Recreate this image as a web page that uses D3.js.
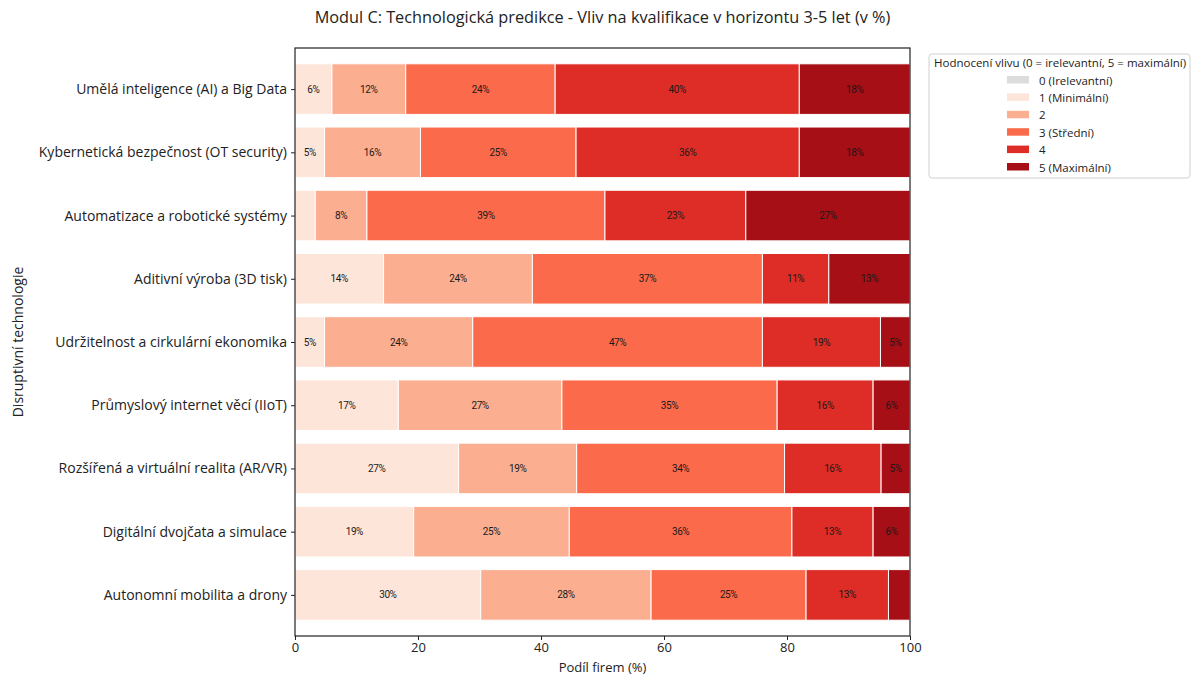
<!DOCTYPE html>
<html>
<head>
<meta charset="utf-8">
<script src="https://cdn.jsdelivr.net/npm/d3@7"></script>
<style>
  html, body { margin: 0; padding: 0; background: #fff; }
  svg { display: block; font-family: "Open Sans", Roboto, sans-serif; }
</style>
</head>
<body>
<svg id="chart" width="1191" height="675"></svg>
<script>
// Technologies (top to bottom)
const categories = [
  "Umělá inteligence (AI) a Big Data",
  "Kybernetická bezpečnost (OT security)",
  "Automatizace a robotické systémy",
  "Aditivní výroba (3D tisk)",
  "Udržitelnost a cirkulární ekonomika",
  "Průmyslový internet věcí (IIoT)",
  "Rozšířená a virtuální realita (AR/VR)",
  "Digitální dvojčata a simulace",
  "Autonomní mobilita a drony"
];

// Impact levels and legend labels
const levels = ["0 (Irelevantní)", "1 (Minimální)", "2", "3 (Střední)", "4", "5 (Maximální)"];
const levelColors = ["#dcdcdc", "#fee5d9", "#fcae91", "#fb6a4a", "#de2d26", "#a50f15"];

// Share of firms (%) per level, one array per level, in category order
const level0 = [0, 0, 0, 0, 0, 0, 0, 0, 0];
const level1 = [6.0, 4.8, 3.3, 14.4, 4.8, 16.8, 26.6, 19.3, 30.2];
const level2 = [12.0, 15.6, 8.4, 24.2, 24.1, 26.6, 19.2, 25.3, 27.7];
const level3 = [24.3, 25.3, 38.7, 37.4, 47.1, 35.0, 33.8, 36.2, 25.2];
const level4 = [39.7, 36.3, 22.9, 10.8, 19.2, 15.6, 15.7, 13.2, 13.4];
const level5 = [18.0, 18.0, 26.7, 13.2, 4.8, 6.0, 4.7, 6.0, 3.5];
const seriesValues = [level0, level1, level2, level3, level4, level5];

const xTicks = [0, 20, 40, 60, 80, 100];

const title = "Modul C: Technologická predikce - Vliv na kvalifikace v horizontu 3-5 let (v %)";
const xTitle = "Podíl firem (%)";
const yTitle = "Disruptivní technologie";
const legendTitle = "Hodnocení vlivu (0 = irelevantní, 5 = maximální)";

const svg = d3.select("#chart");
const plot = { left: 295, right: 910, top: 48, bottom: 636 };

const x = d3.scaleLinear().domain([0, 100]).range([plot.left, plot.right]);
const y = d3.scaleLinear().domain([-0.65, categories.length - 1 + 0.65]).range([plot.top, plot.bottom]);
const barH = 0.8;

// Stack the series
const rows = categories.map((c, i) => {
  const o = { cat: c, idx: i };
  levels.forEach((l, k) => { o[k] = seriesValues[k][i]; });
  return o;
});
const stack = d3.stack().keys(levels.map((l, k) => k));
const stacked = stack(rows);

const g = svg.append("g");

stacked.forEach((layer, k) => {
  const lg = g.append("g");
  lg.selectAll("rect")
    .data(layer)
    .join("rect")
    .attr("x", d => x(d[0]))
    .attr("width", d => x(d[1]) - x(d[0]))
    .attr("y", d => y(d.data.idx - barH / 2))
    .attr("height", d => y(d.data.idx + barH / 2) - y(d.data.idx - barH / 2))
    .attr("fill", levelColors[k])
    .attr("stroke", d => (d[1] - d[0]) > 0 ? "#fff" : "none")
    .attr("stroke-width", 1);

  // Percentage labels on segments wide enough to hold them
  lg.selectAll("text")
    .data(layer.filter(d => (d[1] - d[0]) >= 4))
    .join("text")
    .attr("x", d => x((d[0] + d[1]) / 2))
    .attr("y", d => y(d.data.idx))
    .attr("text-anchor", "middle")
    .attr("dominant-baseline", "central")
    .attr("font-family", "Roboto, sans-serif")
    .attr("font-size", 10)
    .attr("letter-spacing", -0.4)
    .attr("fill", "#1a1a1a")
    .text(d => Math.round(d[1] - d[0]) + "%");
});

// Frame
svg.append("rect")
  .attr("x", plot.left).attr("y", plot.top)
  .attr("width", plot.right - plot.left).attr("height", plot.bottom - plot.top)
  .attr("fill", "none").attr("stroke", "#222").attr("stroke-width", 1.2);

// X axis
const xAxis = d3.axisBottom(x).tickValues(xTicks).tickSize(4).tickPadding(3);
const xg = svg.append("g").attr("transform", `translate(0,${plot.bottom})`).call(xAxis);
xg.select(".domain").remove();
xg.selectAll("line").attr("stroke", "#222");
xg.selectAll("text").attr("font-size", 13).attr("fill", "#222").attr("font-family", "'Open Sans', sans-serif");

// Y axis
const yAxis = d3.axisLeft(y).tickValues(d3.range(categories.length)).tickFormat(i => categories[i]).tickSize(4).tickPadding(4);
const yg = svg.append("g").attr("transform", `translate(${plot.left},0)`).call(yAxis);
yg.select(".domain").remove();
yg.selectAll("line").attr("stroke", "#222");
yg.selectAll("text").attr("font-size", 14).attr("fill", "#222").attr("font-family", "'Open Sans', sans-serif");

// Titles
svg.append("text")
  .attr("x", (plot.left + plot.right) / 2).attr("y", 23)
  .attr("text-anchor", "middle").attr("font-size", 16.3).attr("fill", "#222")
  .text(title);

svg.append("text")
  .attr("x", (plot.left + plot.right) / 2).attr("y", 672)
  .attr("text-anchor", "middle").attr("font-size", 13).attr("fill", "#222")
  .text(xTitle);

svg.append("text")
  .attr("transform", `translate(23,${(plot.top + plot.bottom) / 2}) rotate(-90)`)
  .attr("text-anchor", "middle").attr("font-size", 14).attr("fill", "#222")
  .text(yTitle);

// Legend
const leg = svg.append("g").attr("transform", "translate(929,54)");
leg.append("rect")
  .attr("x", 0).attr("y", 0).attr("width", 261).attr("height", 124)
  .attr("rx", 3).attr("fill", "#fff").attr("stroke", "#d0d0d0");
leg.append("text")
  .attr("x", 5).attr("y", 13).attr("font-size", 11.5).attr("fill", "#222")
  .text(legendTitle);
const items = leg.selectAll("g.item").data(levels).join("g")
  .attr("class", "item")
  .attr("transform", (d, i) => `translate(0,${26 + i * 17.4})`);
items.append("rect")
  .attr("x", 78).attr("y", -4).attr("width", 22).attr("height", 7.5)
  .attr("fill", (d, i) => levelColors[i]);
items.append("text")
  .attr("x", 110).attr("y", 0).attr("dominant-baseline", "central")
  .attr("font-size", 11.5).attr("fill", "#222")
  .text(d => d);
</script>
</body>
</html>
